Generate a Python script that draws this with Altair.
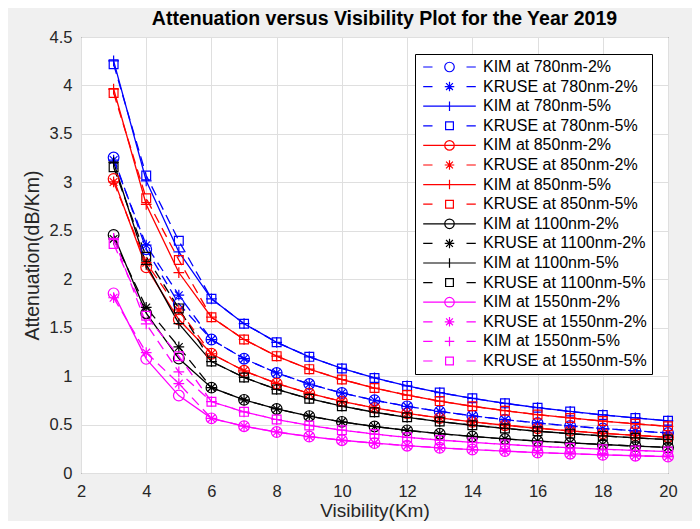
import altair as alt
import pandas as pd

# ---------------- data ----------------
visibility = list(range(3, 21))

kim_780_2 = [3.256, 2.310, 1.747, 1.377, 1.180, 1.033, 0.918, 0.826, 0.751, 0.688, 0.636, 0.590, 0.551, 0.516, 0.486, 0.459, 0.435, 0.413]
kruse_780_2 = [3.230, 2.351, 1.835, 1.377, 1.180, 1.033, 0.918, 0.826, 0.751, 0.688, 0.636, 0.590, 0.551, 0.516, 0.486, 0.459, 0.435, 0.413]
kim_780_5 = [4.253, 3.016, 2.282, 1.798, 1.541, 1.349, 1.199, 1.079, 0.981, 0.899, 0.830, 0.771, 0.719, 0.674, 0.635, 0.599, 0.568, 0.539]
kruse_780_5 = [4.218, 3.071, 2.396, 1.798, 1.541, 1.349, 1.199, 1.079, 0.981, 0.899, 0.830, 0.771, 0.719, 0.674, 0.635, 0.599, 0.568, 0.539]
kim_850_2 = [3.035, 2.123, 1.584, 1.231, 1.055, 0.924, 0.821, 0.739, 0.672, 0.616, 0.568, 0.528, 0.493, 0.462, 0.435, 0.410, 0.389, 0.369]
kruse_850_2 = [3.004, 2.171, 1.683, 1.231, 1.055, 0.924, 0.821, 0.739, 0.672, 0.616, 0.568, 0.528, 0.493, 0.462, 0.435, 0.410, 0.389, 0.369]
kim_850_5 = [3.963, 2.772, 2.069, 1.608, 1.378, 1.206, 1.072, 0.965, 0.877, 0.804, 0.742, 0.689, 0.643, 0.603, 0.568, 0.536, 0.508, 0.482]
kruse_850_5 = [3.923, 2.835, 2.198, 1.608, 1.378, 1.206, 1.072, 0.965, 0.877, 0.804, 0.742, 0.689, 0.643, 0.603, 0.568, 0.536, 0.508, 0.482]
kim_1100_2 = [2.457, 1.649, 1.181, 0.881, 0.755, 0.661, 0.587, 0.528, 0.480, 0.440, 0.406, 0.377, 0.352, 0.330, 0.311, 0.294, 0.278, 0.264]
kruse_1100_2 = [2.416, 1.709, 1.301, 0.881, 0.755, 0.661, 0.587, 0.528, 0.480, 0.440, 0.406, 0.377, 0.352, 0.330, 0.311, 0.294, 0.278, 0.264]
kim_1100_5 = [3.208, 2.153, 1.542, 1.150, 0.986, 0.863, 0.767, 0.690, 0.627, 0.575, 0.531, 0.493, 0.460, 0.431, 0.406, 0.383, 0.363, 0.345]
kruse_1100_5 = [3.156, 2.231, 1.699, 1.150, 0.986, 0.863, 0.767, 0.690, 0.627, 0.575, 0.531, 0.493, 0.460, 0.431, 0.406, 0.383, 0.363, 0.345]
kim_1550_2 = [1.854, 1.178, 0.799, 0.564, 0.483, 0.423, 0.376, 0.338, 0.308, 0.282, 0.260, 0.242, 0.226, 0.211, 0.199, 0.188, 0.178, 0.169]
kruse_1550_2 = [1.809, 1.243, 0.923, 0.564, 0.483, 0.423, 0.376, 0.338, 0.308, 0.282, 0.260, 0.242, 0.226, 0.211, 0.199, 0.188, 0.178, 0.169]
kim_1550_5 = [2.422, 1.539, 1.043, 0.736, 0.631, 0.552, 0.491, 0.442, 0.402, 0.368, 0.340, 0.316, 0.295, 0.276, 0.260, 0.245, 0.233, 0.221]
kruse_1550_5 = [2.363, 1.623, 1.205, 0.736, 0.631, 0.552, 0.491, 0.442, 0.402, 0.368, 0.340, 0.316, 0.295, 0.276, 0.260, 0.245, 0.233, 0.221]

series_names = [
    "KIM at 780nm-2%", "KRUSE at 780nm-2%", "KIM at 780nm-5%", "KRUSE at 780nm-5%",
    "KIM at 850nm-2%", "KRUSE at 850nm-2%", "KIM at 850nm-5%", "KRUSE at 850nm-5%",
    "KIM at 1100nm-2%", "KRUSE at 1100nm-2%", "KIM at 1100nm-5%", "KRUSE at 1100nm-5%",
    "KIM at 1550nm-2%", "KRUSE at 1550nm-2%", "KIM at 1550nm-5%", "KRUSE at 1550nm-5%",
]
series_values = [
    kim_780_2, kruse_780_2, kim_780_5, kruse_780_5,
    kim_850_2, kruse_850_2, kim_850_5, kruse_850_5,
    kim_1100_2, kruse_1100_2, kim_1100_5, kruse_1100_5,
    kim_1550_2, kruse_1550_2, kim_1550_5, kruse_1550_5,
]

# ---------------- styles ----------------
BLUE, RED, BLACK, MAGENTA = "#0000ff", "#ff0000", "#000000", "#ff00ff"
series_colors = [BLUE] * 4 + [RED] * 4 + [BLACK] * 4 + [MAGENTA] * 4
series_dashed = [True, True, False, True,
                 False, True, False, True,
                 False, True, False, True,
                 False, True, True, True]
series_markers = ["circle", "star", "plus", "square"] * 4


def marker_path(kind, cx=0.0, r=1.0):
    if kind == "circle":
        return (f"M{cx - r},0A{r},{r} 0 1,1 {cx + r},0"
                f"A{r},{r} 0 1,1 {cx - r},0Z")
    if kind == "plus":
        return f"M{cx - r},0L{cx + r},0M{cx},{-r}L{cx},{r}"
    if kind == "star":
        d = round(r * 0.72, 3)
        return (f"M{cx - r},0L{cx + r},0M{cx},{-r}L{cx},{r}"
                f"M{cx - d},{-d}L{cx + d},{d}M{cx - d},{d}L{cx + d},{-d}")
    s = round(r * 0.82, 3)
    return f"M{cx - s},{-s}L{cx + s},{-s}L{cx + s},{s}L{cx - s},{s}Z"


def legend_glyph(kind, dashed):
    cx = 4.3
    if dashed:
        line = "M-0.96,0L0.9,0M7.7,0L9.56,0"
    else:
        line = "M-0.96,0L9.56,0"
    return line + marker_path(kind, cx=cx, r=0.95)


glyphs = [legend_glyph(m, d) for m, d in zip(series_markers, series_dashed)]

rows = []
for name, vals, clr, dashed, mk in zip(series_names, series_values, series_colors,
                                       series_dashed, series_markers):
    for v, a in zip(visibility, vals):
        rows.append({"series": name, "V": v, "A": a, "clr": clr,
                     "dash": "dashed" if dashed else "solid", "marker": mk})
df = pd.DataFrame(rows)

FONT = "Liberation Sans"

x_enc = alt.X(
    "V:Q",
    scale=alt.Scale(domain=[2, 20], nice=False, zero=False),
    axis=alt.Axis(
        values=list(range(2, 21, 2)), title="Visibility(Km)", grid=True,
        gridColor="#dfdfdf", ticks=False, domain=False, labelFontSize=16.5,
        labelColor="#262626", labelPadding=10, labelFlush=False, labelOverlap=False,
        labelFont=FONT, titleFont=FONT, titleFontSize=19, titleFontWeight="normal",
        titleColor="#262626", titleY=43.5, titleBaseline="alphabetic",
    ),
)
y_enc = alt.Y(
    "A:Q",
    scale=alt.Scale(domain=[0, 4.5], nice=False),
    axis=alt.Axis(
        values=[0, 0.5, 1, 1.5, 2, 2.5, 3, 3.5, 4, 4.5], format="~g",
        title="Attenuation(dB/Km)", grid=True, gridColor="#dfdfdf", ticks=False,
        domain=False, labelFontSize=16.5, labelColor="#262626", labelPadding=9,
        labelFlush=False, labelOverlap=False, labelFont=FONT, titleFont=FONT,
        titleFontSize=19.5, titleFontWeight="normal", titleColor="#262626",
        titleX=-43, titleY=218, titleBaseline="alphabetic", titleAngle=270,
    ),
)
color_ident = alt.Color("clr:N", scale=None)
color_scale = alt.Scale(domain=series_names, range=series_colors)

base = alt.Chart(df)

solid_lines = base.mark_line(strokeWidth=1.3).encode(
    x=x_enc, y=y_enc, color=color_ident, detail="series:N"
).transform_filter(alt.datum.dash == "solid")

dashed_lines = base.mark_line(strokeWidth=1.3, strokeDash=[10, 6]).encode(
    x=x_enc, y=y_enc, color=color_ident, detail="series:N"
).transform_filter(alt.datum.dash == "dashed")

marker_layers = []
for kind in ["circle", "star", "plus", "square"]:
    marker_layers.append(
        base.mark_point(shape=marker_path(kind), filled=False, size=115,
                        strokeWidth=1.2, opacity=1)
        .encode(x=x_enc, y=y_enc, color=color_ident)
        .transform_filter(alt.datum.marker == kind)
    )

leg = alt.Legend(
    title=None, orient="none", legendX=334, legendY=17,
    symbolSize=100, symbolStrokeWidth=1.2, symbolOpacity=1,
    labelFont=FONT, labelFontSize=16, labelColor="black",
    labelOffset=47, labelLimit=400, rowPadding=3.6, padding=5,
    strokeColor="black", fillColor="white", cornerRadius=0,
)

legend_layer = base.mark_point(opacity=0, filled=False, size=100).encode(
    x=x_enc, y=y_enc,
    color=alt.Color("series:N", scale=color_scale, legend=leg),
    shape=alt.Shape("series:N", scale=alt.Scale(domain=series_names, range=glyphs), legend=leg),
)

chart = alt.layer(
    solid_lines, dashed_lines, *marker_layers, legend_layer
).properties(
    width=587, height=436,
    autosize=alt.AutoSizeParams(type="none"),
    padding={"left": 73, "top": 29, "right": 24, "bottom": 48},
    title=alt.Title(
        "Attenuation versus Visibility Plot for the Year 2019",
        font=FONT, fontSize=19.5, fontWeight="bold", color="black",
        anchor="middle", offset=-15, baseline="alphabetic", dx=10,
    ),
).configure(
    background="#f0f0f0"
).configure_view(
    fill="white", stroke="#262626", strokeWidth=1
)

chart.save("out.html", embed_options={"renderer": "svg", "actions": False})
